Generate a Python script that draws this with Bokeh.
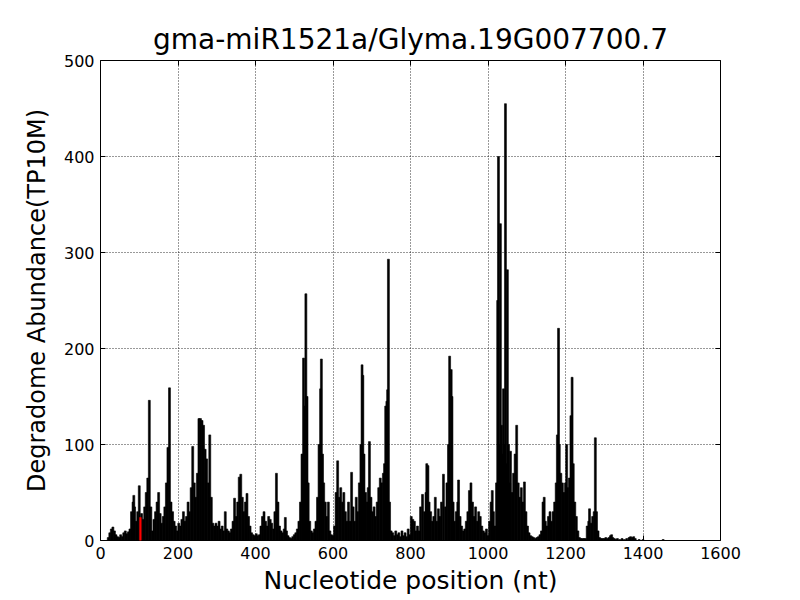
from bokeh.plotting import figure
from bokeh.models import Range1d, FixedTicker, LinearAxis, ColumnDataSource
from bokeh.embed import file_html
from bokeh.resources import INLINE

title_text = "gma-miR1521a/Glyma.19G007700.7"
x_label = "Nucleotide position (nt)"
y_label = "Degradome Abundance(TP10M)"
x_ticks = [0, 200, 400, 600, 800, 1000, 1200, 1400, 1600]
y_ticks = [0, 100, 200, 300, 400, 500]

# degradome read abundance per nucleotide position
positions = [
    20, 24, 28, 32, 36, 40, 44, 48, 52, 56, 60, 64, 68, 72, 76, 80, 84, 86, 88, 92,
    96, 100, 106, 110, 114, 118, 122, 126, 130, 134, 138, 142, 146, 150, 154, 158,
    162, 166, 170, 174, 178, 182, 186, 190, 194, 198, 202, 206, 210, 214, 218, 222,
    226, 230, 234, 238, 242, 246, 250, 254, 258, 262, 266, 270, 274, 278, 282, 286,
    290, 294, 298, 302, 306, 310, 314, 318,
    322, 326, 330, 334, 338, 342, 346, 350, 354, 358, 362, 366, 370, 374, 378, 382,
    386, 390, 394, 398, 402, 406, 410, 414, 418, 422, 426, 430, 434, 438, 442, 446,
    450, 454, 458, 462, 466, 470, 474, 477, 480, 484, 488, 492, 496, 500, 504, 508,
    512, 516, 520, 524, 527, 530, 533, 536, 540, 544, 548, 552, 556, 560, 564, 568,
    570, 573, 576, 580, 584, 588, 592, 596, 600, 604, 608, 612, 616, 620, 624, 628,
    632, 636,
    640, 644, 648, 652, 656, 660, 664, 668, 672, 675, 677, 680, 684, 688, 691, 694,
    698, 702, 706, 710, 714, 718, 722, 726, 730, 733, 736, 739, 741, 743, 746, 750,
    754, 758, 762, 766, 770, 774, 778, 782, 786, 790, 794, 798, 802, 806, 810, 814,
    818, 822, 826, 831, 836, 840, 842, 845, 848, 852, 856, 860, 864, 868, 872, 876,
    880, 885, 890, 894, 898, 901, 905, 907, 910, 914, 918, 922, 924, 928, 932, 936,
    940, 944, 948, 952, 956, 960,
    964, 968, 972, 976, 980, 984, 988, 992, 996, 1000, 1004, 1008, 1011, 1014, 1018,
    1022, 1025, 1027, 1030, 1032, 1035, 1038, 1040, 1042, 1045, 1047, 1050, 1053,
    1056, 1058, 1062, 1066, 1070, 1074, 1078, 1082, 1086, 1090, 1094, 1098, 1102,
    1106, 1110, 1114, 1118, 1122, 1126, 1130, 1134, 1138, 1142, 1145, 1148, 1152,
    1156, 1160, 1164, 1168, 1172, 1176, 1179, 1182, 1184, 1188, 1192, 1196, 1200,
    1203, 1206, 1210, 1214, 1217, 1220, 1224, 1228, 1232, 1236, 1240, 1244, 1248,
    1252, 1256, 1260, 1262, 1266, 1270, 1274, 1277, 1280, 1284, 1288, 1292, 1296,
    1300, 1304, 1308, 1312, 1316, 1319, 1322, 1326, 1330, 1334, 1340, 1346, 1352,
    1358, 1364, 1368, 1372, 1376, 1380, 1390, 1400, 1452,
]
abundance = [
    3, 8, 12, 14, 10, 6, 4, 3, 6, 4, 8, 10, 7, 9, 12, 30, 40, 47, 35, 20,
    30, 57, 28, 22, 35, 50, 65, 146, 35, 10, 22, 30, 40, 50, 28, 18,
    25, 35, 60, 97, 159, 40, 30, 20, 15, 10, 18, 15, 22, 30, 20, 25,
    40, 30, 55, 98, 60, 45, 70, 127, 127, 125, 120, 95, 85, 60, 110, 45,
    18, 15, 18, 15, 20, 12, 15, 10,
    30, 12, 10, 8, 12, 20, 44, 25, 40, 66, 69, 45, 30, 40, 49, 25,
    15, 8, 6, 5, 7, 5, 6, 15, 25, 30, 20, 15, 25, 22, 18, 12,
    30, 70, 40, 15, 10, 8, 12, 24, 10, 5, 3, 2, 4, 6, 8, 12,
    20, 40, 90, 190, 140, 257, 150, 60, 20, 10, 8, 12, 20, 45, 100, 158,
    189, 90, 60, 40, 25, 40, 10, 6, 5, 15, 50, 83, 45, 55, 40, 50,
    30, 20,
    40, 20, 71, 35, 20, 45, 30, 60, 100, 183, 172, 90, 50, 40, 55, 103,
    45, 30, 35, 25, 40, 55, 65, 60, 70, 80, 140, 145, 157, 293, 40, 10,
    8, 5, 10, 6, 8, 4, 10, 5, 8, 4, 12, 6, 25, 22, 20, 10,
    15, 10, 35, 48, 30, 50, 80, 78, 40, 30, 20, 25, 45, 20, 33, 25,
    40, 69, 35, 60, 100, 192, 178, 150, 40, 20, 30, 40, 63, 25, 15, 10,
    12, 20, 30, 52, 60, 40,
    25, 35, 20, 30, 25, 15, 10, 8, 12, 5, 20, 40, 52, 30, 15,
    60, 250, 400, 100, 330, 120, 90, 158, 100, 455, 80, 282, 100,
    60, 93, 50, 70, 90, 120, 60, 45, 55, 40, 61, 30, 15,
    8, 5, 4, 3, 2, 3, 4, 6, 10, 40, 45, 20, 15,
    25, 30, 20, 30, 40, 60, 110, 221, 100, 70, 60, 50, 60,
    100, 55, 65, 130, 170, 80, 40, 25, 10, 3, 2, 2, 2,
    2, 15, 20, 33, 18, 25, 30, 107, 30, 10, 3, 2, 2,
    2, 3, 2, 3, 5, 6, 3, 2, 1, 2, 1, 2, 1,
    2, 3, 4, 3, 4, 2, 1, 1, 1,
]
# predicted cleavage site (red bar)
cleavage_pos = [103]
cleavage_val = [24]

FONT = "DejaVu Sans"

p = figure(
    frame_width=620, frame_height=480,
    min_border_left=100, min_border_right=72, min_border_top=60, min_border_bottom=52,
    x_range=Range1d(0, 1600), y_range=Range1d(0, 500),
    output_backend="svg", toolbar_location=None,
    title=title_text,
)
p.title.text_font = FONT
p.title.text_font_size = "28px"
p.title.text_font_style = "normal"
p.title.align = "center"
p.title.text_color = "black"

src = ColumnDataSource(dict(x=positions, top=abundance))
p.vbar(x="x", top="top", bottom=0, width=5, source=src,
       fill_color="black", line_color="black", line_width=0.6)
p.vbar(x=cleavage_pos, top=cleavage_val, bottom=0, width=4,
       fill_color="red", line_color="red", line_width=0.6)

p.outline_line_color = "black"
p.outline_line_width = 1

for ax in (p.xaxis[0], p.yaxis[0]):
    ax.axis_line_color = None
    ax.major_tick_in = 5
    ax.major_tick_out = 0
    ax.minor_tick_line_color = None
    ax.major_tick_line_color = "black"
    ax.major_label_text_font = FONT
    ax.major_label_text_font_size = "16px"
    ax.major_label_text_color = "black"
    ax.axis_label_text_font = FONT
    ax.axis_label_text_font_style = "normal"
    ax.axis_label_text_color = "black"

p.xaxis[0].axis_label_text_font_size = "25px"
p.yaxis[0].axis_label_text_font_size = "24px"
p.xaxis[0].ticker = FixedTicker(ticks=x_ticks)
p.yaxis[0].ticker = FixedTicker(ticks=y_ticks)
p.xaxis[0].axis_label = x_label
p.yaxis[0].axis_label = y_label
p.xaxis[0].major_label_standoff = 6
p.yaxis[0].major_label_standoff = 6
p.xaxis[0].axis_label_standoff = 4
p.yaxis[0].axis_label_standoff = 10

# mirrored ticks on the top and right sides (no labels)
top_ax = LinearAxis(ticker=FixedTicker(ticks=x_ticks),
                    major_label_overrides={t: "" for t in x_ticks},
                    axis_line_color=None, major_tick_in=5, major_tick_out=0,
                    minor_tick_line_color=None, major_label_standoff=0)
right_ax = LinearAxis(ticker=FixedTicker(ticks=y_ticks),
                      major_label_overrides={t: "" for t in y_ticks},
                      axis_line_color=None, major_tick_in=5, major_tick_out=0,
                      minor_tick_line_color=None, major_label_standoff=0)
p.add_layout(right_ax, "right")
p.add_layout(top_ax, "above")

p.xgrid.ticker = FixedTicker(ticks=x_ticks)
p.ygrid.ticker = FixedTicker(ticks=y_ticks)
for g in (p.xgrid[0], p.ygrid[0]):
    g.grid_line_color = "black"
    g.grid_line_alpha = 0.8
    g.grid_line_dash = "1 2"
    g.grid_line_width = 1

p.background_fill_color = "white"
p.border_fill_color = "white"

open("out.html", "w").write(file_html(p, INLINE))
